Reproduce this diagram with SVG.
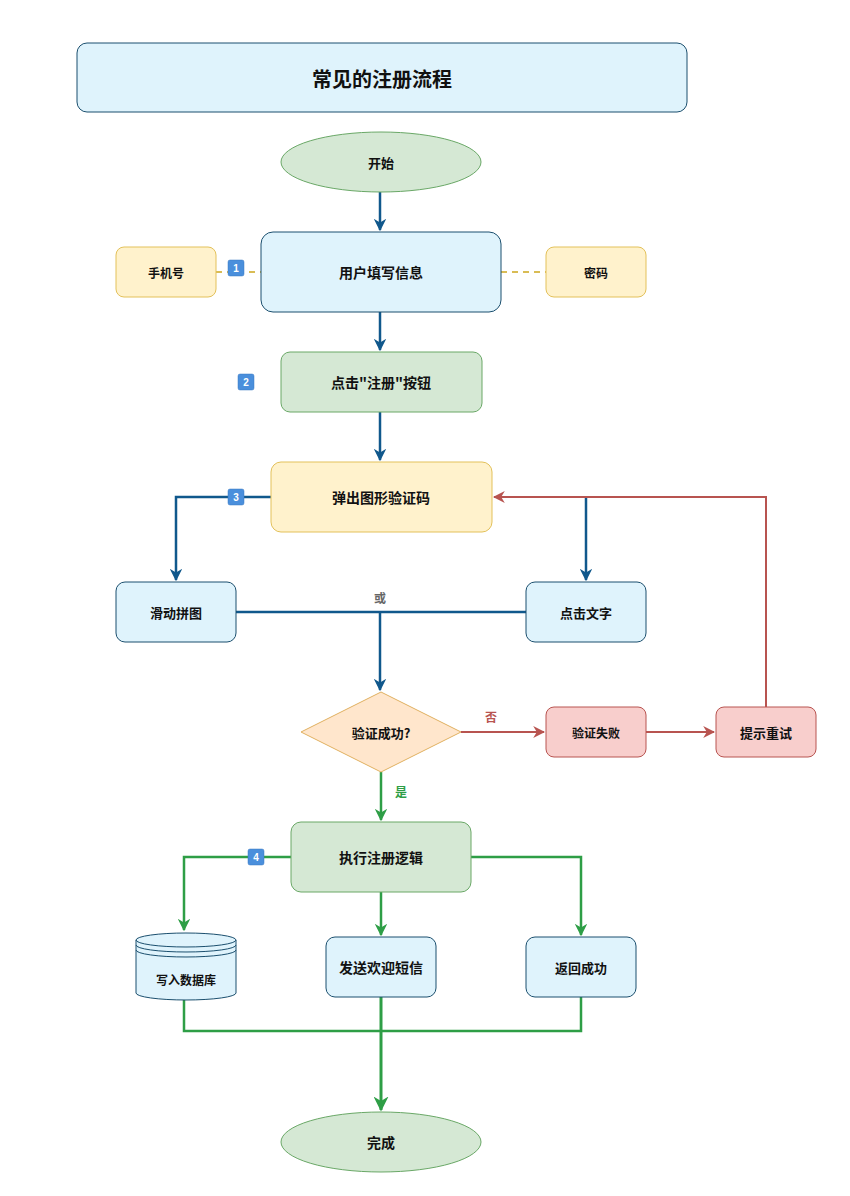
<svg xmlns="http://www.w3.org/2000/svg" width="850" height="1196" viewBox="0 0 850 1196">
<defs>
<marker id="ab" viewBox="0 0 10 10" refX="9" refY="5" markerWidth="5" markerHeight="5" orient="auto" markerUnits="strokeWidth"><path d="M0,0 L10,5 L0,10 L3,5 z" fill="#10588c"/></marker>
<marker id="ar" viewBox="0 0 10 10" refX="9" refY="5" markerWidth="6" markerHeight="6" orient="auto" markerUnits="strokeWidth"><path d="M0,0 L10,5 L0,10 L3,5 z" fill="#b85450"/></marker>
<marker id="ag" viewBox="0 0 10 10" refX="9" refY="5" markerWidth="5" markerHeight="5" orient="auto" markerUnits="strokeWidth"><path d="M0,0 L10,5 L0,10 L3,5 z" fill="#2e9e46"/></marker>
</defs>
<style>
text{font-family:"Noto Sans CJK SC","Noto Sans",sans-serif;font-weight:bold;font-size:13px;fill:#111;text-anchor:middle;dominant-baseline:central}
.s12{font-size:12px}
.s14{font-size:14px}
.blue{fill:#dff3fc;stroke:#1b4f6e;stroke-width:1}
.yel{fill:#fff2cc;stroke:#e3c15a;stroke-width:1}
.grn{fill:#d5e8d4;stroke:#6aa867;stroke-width:1}
.red{fill:#f8cecc;stroke:#b85450;stroke-width:1}
.cb{fill:none;stroke:#10588c;stroke-width:2.5}
.cr{fill:none;stroke:#b85450;stroke-width:2}
.cg{fill:none;stroke:#2e9e46;stroke-width:2.5}
.cy{fill:none;stroke:#d9bc55;stroke-width:2;stroke-dasharray:6 5}
.badge{fill:#4a8fdc;stroke:#3a78c0;stroke-width:0.5}
.bt{fill:#fff;font-size:10px;font-family:"Liberation Sans",sans-serif}
</style>
<rect width="850" height="1196" fill="#fff"/>
<g id="connectors">
<path class="cb" d="M380,192 L380,230" marker-end="url(#ab)"/>
<path class="cy" d="M216,272 L261,272"/>
<path class="cy" d="M501,272 L546,272"/>
<path class="cb" d="M380,312 L380,350" marker-end="url(#ab)"/>
<path class="cb" d="M380,412 L380,460" marker-end="url(#ab)"/>
<path class="cb" d="M271,497 L176,497 L176,580" marker-end="url(#ab)"/>
<path class="cb" d="M586,497 L586,580" marker-end="url(#ab)"/>
<path class="cb" d="M236,612 L526,612"/>
<path class="cb" d="M380,612 L380,690" marker-end="url(#ab)"/>
<path class="cr" d="M461,732 L544,732" marker-end="url(#ar)"/>
<path class="cr" d="M646,732 L714,732" marker-end="url(#ar)"/>
<path class="cr" d="M766,707 L766,497 L494,497" marker-end="url(#ar)"/>
<path class="cg" d="M381,772 L381,820" marker-end="url(#ag)"/>
<path class="cg" d="M291,857 L184,857 L184,930" marker-end="url(#ag)"/>
<path class="cg" d="M381,892 L381,935" marker-end="url(#ag)"/>
<path class="cg" d="M471,857 L581,857 L581,935" marker-end="url(#ag)"/>
<path class="cg" d="M184,1000 L184,1031 L581,1031 L581,997"/>
<path class="cg" d="M381,997 L381,1110" style="stroke-width:3" marker-end="url(#ag)"/>
<text x="380" y="597" style="fill:#666;font-size:12px">或</text>
<text x="491" y="716" style="fill:#b85450;font-size:12px">否</text>
<text x="401" y="791" style="fill:#2e9e46;font-size:12px">是</text>
</g>
<g id="title"><rect class="blue" x="77" y="43" width="610" height="69" rx="10"/><text x="382" y="78" style="font-size:20px">常见的注册流程</text></g>
<g id="start"><ellipse class="grn" cx="381" cy="162" rx="100" ry="30"/><text x="381" y="162">开始</text></g>
<g id="fill"><rect class="blue" x="261" y="232" width="240" height="80" rx="12"/><text class="s14" x="381" y="272">用户填写信息</text></g>
<g id="phone"><rect class="yel" x="116" y="247" width="100" height="50" rx="8"/><text class="s12" x="166" y="272">手机号</text></g>
<g id="pwd"><rect class="yel" x="546" y="247" width="100" height="50" rx="8"/><text class="s12" x="596" y="272">密码</text></g>
<g id="badge1"><rect class="badge" x="228" y="260" width="16" height="16" rx="2"/><text class="bt" x="236" y="268">1</text></g>
<g id="click"><rect class="grn" x="281" y="352" width="201" height="60" rx="9"/><text class="s14" x="381" y="382">点击"注册"按钮</text></g>
<g id="badge2"><rect class="badge" x="238" y="374" width="16" height="16" rx="2"/><text class="bt" x="246" y="382">2</text></g>
<g id="captcha"><rect class="yel" x="271" y="462" width="221" height="70" rx="10"/><text class="s14" x="381" y="497">弹出图形验证码</text></g>
<g id="badge3"><rect class="badge" x="228" y="489" width="16" height="16" rx="2"/><text class="bt" x="236" y="497">3</text></g>
<g id="slide"><rect class="blue" x="116" y="582" width="120" height="60" rx="9"/><text x="176" y="612">滑动拼图</text></g>
<g id="clicktext"><rect class="blue" x="526" y="582" width="120" height="60" rx="9"/><text x="586" y="612">点击文字</text></g>
<g id="decision"><path d="M381,692 L461,732 L381,772 L301,732 Z" fill="#ffe6cc" stroke="#e0b060" stroke-width="1"/><text x="381" y="732">验证成功?</text></g>
<g id="fail"><rect class="red" x="546" y="707" width="100" height="50" rx="8"/><text class="s12" x="596" y="732">验证失败</text></g>
<g id="retry"><rect class="red" x="716" y="707" width="100" height="50" rx="8"/><text x="766" y="732">提示重试</text></g>
<g id="exec"><rect class="grn" x="291" y="822" width="180" height="70" rx="10"/><text class="s14" x="381" y="857">执行注册逻辑</text></g>
<g id="badge4"><rect class="badge" x="248" y="849" width="16" height="16" rx="2"/><text class="bt" x="256" y="857">4</text></g>
<g id="db">
<path class="blue" d="M136,940 A50,7 0 0 1 236,940 L236,993 A50,7 0 0 1 136,993 Z"/>
<path d="M136,940 A50,7 0 0 0 236,940 M136,945 A50,7 0 0 0 236,945 M136,950 A50,7 0 0 0 236,950" fill="none" stroke="#1b4f6e" stroke-width="1"/>
<text class="s12" x="186" y="979">写入数据库</text>
</g>
<g id="sms"><rect class="blue" x="326" y="937" width="110" height="60" rx="9"/><text class="s14" x="381" y="967">发送欢迎短信</text></g>
<g id="ret"><rect class="blue" x="526" y="937" width="110" height="60" rx="9"/><text x="581" y="967">返回成功</text></g>
<g id="end"><ellipse class="grn" cx="381" cy="1142" rx="100" ry="30"/><text class="s14" x="381" y="1142">完成</text></g>
</svg>
